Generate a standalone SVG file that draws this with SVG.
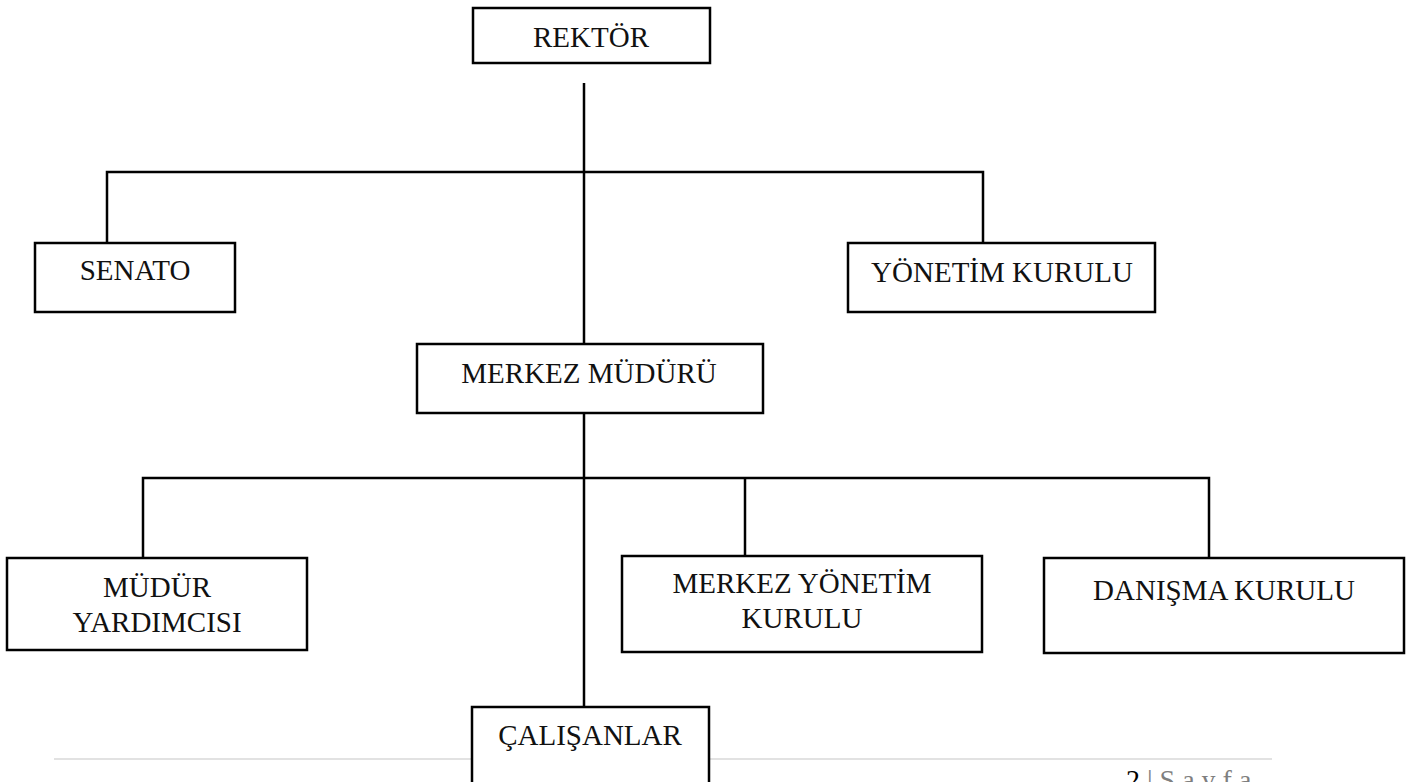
<svg xmlns="http://www.w3.org/2000/svg" width="1413" height="782" viewBox="0 0 1413 782">
<style>
.box{fill:#fff;stroke:#000;stroke-width:2.5}
.lbl{font-family:"Liberation Serif","Times New Roman",serif;font-size:29px;fill:#111;text-anchor:middle}
.con{fill:none;stroke:#000;stroke-width:2.5}
.foot{stroke:#d9d9d9;stroke-width:1.5}
</style>
<rect width="1413" height="782" fill="#fff"/>
<line class="foot" x1="54" y1="759" x2="1272" y2="759"/>
<g id="connectors">
<path class="con" d="M584 83V344"/>
<path class="con" d="M107 243V172H983V243"/>
<path class="con" d="M584 413V707"/>
<path class="con" d="M143 558V478H1209V558"/>
<path class="con" d="M745 478V556"/>
</g>
<g id="rektor"><rect class="box" x="473" y="8" width="237" height="55"/><text class="lbl" x="591" y="47">REKTÖR</text></g>
<g id="senato"><rect class="box" x="35" y="243" width="200" height="69"/><text class="lbl" x="135" y="280">SENATO</text></g>
<g id="yonetim-kurulu"><rect class="box" x="848" y="243" width="307" height="69"/><text class="lbl" x="1002" y="282">YÖNETİM KURULU</text></g>
<g id="merkez-muduru"><rect class="box" x="417" y="344" width="346" height="69"/><text class="lbl" x="589" y="383">MERKEZ MÜDÜRÜ</text></g>
<g id="mudur-yardimcisi"><rect class="box" x="7" y="558" width="300" height="92"/><text class="lbl" x="157" y="597">MÜDÜR</text><text class="lbl" x="157" y="632">YARDIMCISI</text></g>
<g id="merkez-yonetim-kurulu"><rect class="box" x="622" y="556" width="360" height="96"/><text class="lbl" x="802" y="593">MERKEZ YÖNETİM</text><text class="lbl" x="802" y="628">KURULU</text></g>
<g id="danisma-kurulu"><rect class="box" x="1044" y="558" width="360" height="95"/><text class="lbl" x="1224" y="600">DANIŞMA KURULU</text></g>
<g id="calisanlar"><rect class="box" x="472" y="707" width="237" height="100"/><text class="lbl" x="590" y="745">ÇALIŞANLAR</text></g>
<g id="footer"><text x="1126" y="789" font-family="Liberation Serif,serif" font-size="28" fill="#000">2 <tspan fill="#7f7f7f">| S a y f a</tspan></text></g>
</svg>
